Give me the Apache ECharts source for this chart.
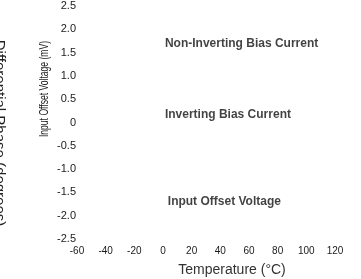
<!DOCTYPE html>
<html>
<head>
<meta charset="utf-8">
<script src="https://cdn.jsdelivr.net/npm/echarts@6/dist/echarts.min.js"></script>
<style>
  html, body { margin: 0; padding: 0; background: #fff; }
  #main { width: 361px; height: 279px; }
</style>
</head>
<body>
<div id="main"></div>
<script>
// axis values
const tempTicks = [-60, -40, -20, 0, 20, 40, 60, 80, 100, 120];
const voltTicks = [-2.5, -2.0, -1.5, -1.0, -0.5, 0, 0.5, 1.0, 1.5, 2.0, 2.5];
const voltLabels = ['-2.5', '-2.0', '-1.5', '-1.0', '-0.5', '0', '0.5', '1.0', '1.5', '2.0', '2.5'];

// curve labels (no curves survived in the picture, only the text)
const curveNames = ['Non-Inverting Bias Current', 'Inverting Bias Current', 'Input Offset Voltage'];
const curveLabelTemp = [1, 1, 3];
const curveLabelVolt = [1.69, 0.16, -1.71];

const sans = "'Liberation Sans', Arial, sans-serif";

const chart = echarts.init(document.getElementById('main'), null, { renderer: 'canvas' });

let labelData = curveNames.map((n, i) => ({ name: n, value: [curveLabelTemp[i], curveLabelVolt[i]] }));

const option = {
  backgroundColor: '#ffffff',
  animation: false,
  grid: { left: 77, right: 26, top: 6, bottom: 40 },
  xAxis: {
    type: 'value',
    min: tempTicks[0],
    max: tempTicks[tempTicks.length - 1],
    interval: 20,
    axisLine: { show: false },
    axisTick: { show: false },
    splitLine: { show: false },
    axisLabel: {
      margin: 7,
      fontSize: 10,
      fontFamily: sans,
      color: '#1a1a1a',
      formatter: v => String(v)
    }
  },
  yAxis: {
    type: 'value',
    min: voltTicks[0],
    max: voltTicks[voltTicks.length - 1],
    interval: 0.5,
    axisLine: { show: false },
    axisTick: { show: false },
    splitLine: { show: false },
    axisLabel: {
      margin: 1,
      fontSize: 11,
      fontFamily: sans,
      color: '#1a1a1a',
      formatter: function (v) {
        let i = voltTicks.findIndex(t => Math.abs(t - v) < 1e-6);
        return i >= 0 ? voltLabels[i] : '';
      }
    }
  },
  graphic: [
    {
      // squeezed along its length like in the scan
      type: 'text',
      x: 44, y: 89,
      rotation: Math.PI / 2,
      scaleX: 0.66,
      silent: true,
      style: {
        text: 'Input Offset Voltage (mV)',
        fontSize: 13,
        fontFamily: sans,
        fill: '#222',
        textAlign: 'center',
        textVerticalAlign: 'middle'
      }
    },
    {
      // second axis title, cut off by the left edge in the scan
      type: 'text',
      x: 7, y: 133,
      rotation: -Math.PI / 2,
      silent: true,
      style: {
        text: 'Differential Phase (degrees)',
        fontSize: 15,
        fontFamily: sans,
        fill: '#222',
        textAlign: 'center',
        textVerticalAlign: 'top'
      }
    },
    {
      type: 'text',
      x: 232, y: 270,
      silent: true,
      style: {
        text: 'Temperature (°C)',
        fontSize: 14,
        fontFamily: sans,
        fill: '#333',
        textAlign: 'center',
        textVerticalAlign: 'middle'
      }
    }
  ],
  series: [{
    type: 'scatter',
    silent: true,
    symbolSize: 1,
    itemStyle: { color: 'rgba(0,0,0,0)' },
    data: labelData,
    label: {
      show: true,
      position: 'right',
      distance: 0,
      formatter: p => p.name,
      fontSize: 12,
      fontWeight: 'bold',
      fontFamily: sans,
      color: '#111'
    }
  }]
};

chart.setOption(option);
</script>
</body>
</html>
